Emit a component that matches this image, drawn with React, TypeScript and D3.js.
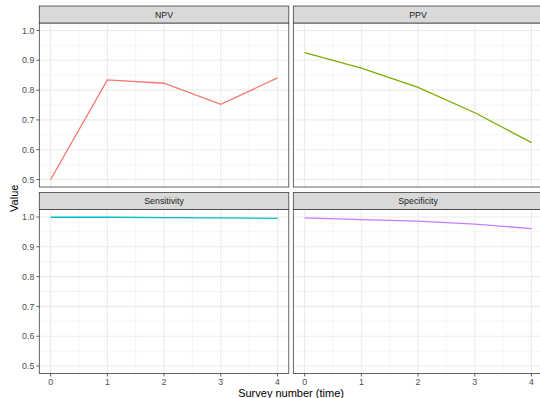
import React, { useEffect, useRef } from 'react';
import * as d3 from 'd3';

// values
const surveys = [0, 1, 2, 3, 4];
const npv = [0.5, 0.834, 0.823, 0.752, 0.841];
const ppv = [0.926, 0.874, 0.809, 0.724, 0.624];
const sensitivity = [0.999, 0.999, 0.998, 0.997, 0.995];
const specificity = [0.997, 0.991, 0.986, 0.976, 0.961];
const facetNames = ['NPV', 'PPV', 'Sensitivity', 'Specificity'];
const facetColors = ['#F8766D', '#7CAE00', '#00BFC4', '#C77CFF'];
const yTicks = [0.5, 0.6, 0.7, 0.8, 0.9, 1.0];
const plotTitle = 'Diagnostic accuracy by survey number (time) and sampling';

const App = () => {
  const ref = useRef<SVGSVGElement>(null);

  useEffect(() => {
    const svg = d3.select(ref.current);
    svg.selectAll('*').remove();

    const W = 540, H = 398;
    const font = '"Liberation Sans", Arial, Helvetica, sans-serif';
    const colX = [39.3, 293.3];
    const panelW = 249.5;
    const stripH = 17;
    const panelH = 164;
    const rowTop = [6, 6 + stripH + panelH + 5.5];

    const series = [npv, ppv, sensitivity, specificity];

    svg.attr('width', W).attr('height', H).style('display', 'block');
    svg.append('rect').attr('width', W).attr('height', H).attr('fill', '#fff');

    // title, cropped by the top edge in the reference (only descenders show)
    svg.append('text')
      .attr('x', (39.3 + 542.8) / 2)
      .attr('y', -2.6)
      .attr('text-anchor', 'middle')
      .attr('font-family', font)
      .attr('font-size', 13)
      .attr('fill', '#000')
      .text(plotTitle);

    facetNames.forEach((name, i) => {
      const col = i % 2, row = Math.floor(i / 2);
      const x0 = colX[col];
      const sTop = rowTop[row];
      const pTop = sTop + stripH;

      const x = d3.scaleLinear().domain([-0.2, 4.2]).range([x0, x0 + panelW]);
      const y = d3.scaleLinear().domain([0.475, 1.025]).range([pTop + panelH, pTop]);

      const g = svg.append('g');
      g.append('rect')
        .attr('x', x0).attr('y', pTop).attr('width', panelW).attr('height', panelH)
        .attr('fill', '#fff');

      // minor grid
      const minorX = [0.5, 1.5, 2.5, 3.5];
      const minorY = [0.55, 0.65, 0.75, 0.85, 0.95];
      minorX.forEach(v => g.append('line')
        .attr('x1', x(v)).attr('x2', x(v)).attr('y1', pTop).attr('y2', pTop + panelH)
        .attr('stroke', '#EBEBEB').attr('stroke-width', 0.55));
      minorY.forEach(v => g.append('line')
        .attr('x1', x0).attr('x2', x0 + panelW).attr('y1', y(v)).attr('y2', y(v))
        .attr('stroke', '#EBEBEB').attr('stroke-width', 0.55));
      // major grid
      surveys.forEach(v => g.append('line')
        .attr('x1', x(v)).attr('x2', x(v)).attr('y1', pTop).attr('y2', pTop + panelH)
        .attr('stroke', '#EBEBEB').attr('stroke-width', 1.1));
      yTicks.forEach(v => g.append('line')
        .attr('x1', x0).attr('x2', x0 + panelW).attr('y1', y(v)).attr('y2', y(v))
        .attr('stroke', '#EBEBEB').attr('stroke-width', 1.1));

      const line = d3.line<number>()
        .x((d, j) => x(surveys[j]))
        .y(d => y(d));
      g.append('path')
        .datum(series[i])
        .attr('d', line)
        .attr('fill', 'none')
        .attr('stroke', facetColors[i])
        .attr('stroke-width', 1.3);

      // panel border
      g.append('rect')
        .attr('x', x0).attr('y', pTop).attr('width', panelW).attr('height', panelH)
        .attr('fill', 'none').attr('stroke', '#333333').attr('stroke-width', 0.75);

      // strip
      g.append('rect')
        .attr('x', x0).attr('y', sTop).attr('width', panelW).attr('height', stripH)
        .attr('fill', '#D9D9D9').attr('stroke', '#333333').attr('stroke-width', 0.75);
      g.append('text')
        .attr('x', x0 + panelW / 2).attr('y', sTop + stripH / 2 + 3.2)
        .attr('text-anchor', 'middle')
        .attr('font-family', font).attr('font-size', 8.8).attr('fill', '#1A1A1A')
        .text(name);

      // y axis on left column
      if (col === 0) {
        yTicks.forEach(v => {
          g.append('line')
            .attr('x1', x0 - 3).attr('x2', x0).attr('y1', y(v)).attr('y2', y(v))
            .attr('stroke', '#333333').attr('stroke-width', 0.75);
          g.append('text')
            .attr('x', x0 - 5).attr('y', y(v) + 3.1)
            .attr('text-anchor', 'end')
            .attr('font-family', font).attr('font-size', 8.8).attr('fill', '#4D4D4D')
            .text(d3.format('.1f')(v));
        });
      }
      // x axis on bottom row
      if (row === 1) {
        surveys.forEach(v => {
          g.append('line')
            .attr('x1', x(v)).attr('x2', x(v))
            .attr('y1', pTop + panelH).attr('y2', pTop + panelH + 3)
            .attr('stroke', '#333333').attr('stroke-width', 0.75);
          g.append('text')
            .attr('x', x(v)).attr('y', pTop + panelH + 11.5)
            .attr('text-anchor', 'middle')
            .attr('font-family', font).attr('font-size', 8.8).attr('fill', '#4D4D4D')
            .text(String(v));
        });
      }
    });

    // axis titles
    svg.append('text')
      .attr('x', (39.3 + 542.8) / 2).attr('y', 396.5)
      .attr('text-anchor', 'middle')
      .attr('font-family', font).attr('font-size', 11).attr('fill', '#000')
      .text('Survey number (time)');
    svg.append('text')
      .attr('transform', `translate(17.5, ${(rowTop[0] + stripH + rowTop[1] + stripH + panelH) / 2}) rotate(-90)`)
      .attr('text-anchor', 'middle')
      .attr('font-family', font).attr('font-size', 11).attr('fill', '#000')
      .text('Value');
  }, []);

  return (
    <div style={{ position: 'absolute', left: 0, top: 0 }}>
      <svg ref={ref}></svg>
    </div>
  );
};

export default App;
